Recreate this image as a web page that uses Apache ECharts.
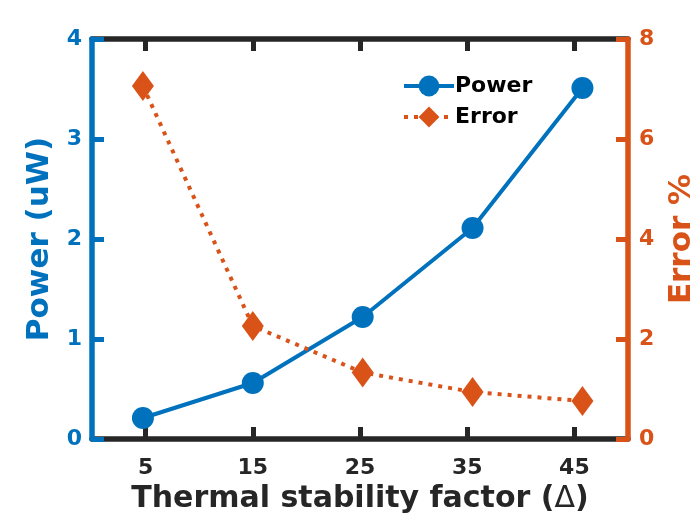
<!DOCTYPE html>
<html>
<head>
<meta charset="utf-8">
<script src="https://cdn.jsdelivr.net/npm/echarts@6/dist/echarts.min.js"></script>
<style>
  html, body { margin: 0; padding: 0; background: #fff; }
  #chart { width: 700px; height: 525px; }
</style>
</head>
<body>
<div id="chart"></div>
<script>
// thermal stability factor (x positions of the points)
const delta = [4.75, 15, 25.25, 35.5, 45.75];
const xTicks = [5, 15, 25, 35, 45];
// power in uW (left axis)
const power = [0.21, 0.56, 1.22, 2.11, 3.51];
// error in % (right axis)
const error = [7.06, 2.26, 1.33, 0.94, 0.76];

const blue = '#0072BD';
const orange = '#D95319';
const dark = '#262626';
const font = 'DejaVu Sans';

const chart = echarts.init(document.getElementById('chart'), null, { renderer: 'canvas' });

const option = {
  animation: false,
  grid: {
    left: 92,
    right: 72,
    top: 39,
    bottom: 86,
    outerBoundsMode: 'none'
  },
  legend: {
    left: 397,
    top: 70,
    orient: 'vertical',
    itemWidth: 50,
    itemHeight: 26,
    itemGap: 9,
    lineStyle: { width: 4 },
    textStyle: { fontFamily: font, fontWeight: 'bold', fontSize: 22, color: '#000', padding: [0, 0, 0, -4] },
    data: ['Power', 'Error']
  },
  xAxis: [{
    type: 'value',
    min: 0,
    max: 50,
    position: 'bottom',
    name: '{b|Thermal stability factor (}{d|Δ}{b|)}',
    nameLocation: 'middle',
    nameGap: 40,
    nameTextStyle: {
      rich: {
        b: { fontFamily: font, fontWeight: 'bold', fontSize: 30, color: dark },
        d: { fontFamily: font, fontWeight: 'normal', fontSize: 30, color: dark }
      }
    },
    axisLine: { onZero: false, lineStyle: { color: dark, width: 5.5 } },
    axisTick: { inside: true, length: 12, customValues: xTicks, lineStyle: { color: dark, width: 5 } },
    axisLabel: { customValues: xTicks, margin: 18, fontFamily: font, fontWeight: 'bold', fontSize: 22, color: dark },
    splitLine: { show: false }
  }, {
    type: 'value',
    min: 0,
    max: 50,
    position: 'top',
    axisLine: { onZero: false, lineStyle: { color: dark, width: 5.5 } },
    axisTick: { inside: true, length: 12, customValues: xTicks, lineStyle: { color: dark, width: 5 } },
    axisLabel: { show: false },
    splitLine: { show: false }
  }],
  yAxis: [{
    type: 'value',
    min: 0,
    max: 4,
    interval: 1,
    position: 'left',
    z: 5,
    name: 'Power (uW)',
    nameLocation: 'middle',
    nameGap: 34,
    nameTextStyle: { fontFamily: font, fontWeight: 'bold', fontSize: 31, color: blue },
    axisLine: { show: true, onZero: false, lineStyle: { color: blue, width: 5.5 } },
    axisTick: { show: true, inside: true, length: 12, lineStyle: { color: blue, width: 5 } },
    axisLabel: { margin: 10, fontFamily: font, fontWeight: 'bold', fontSize: 22, color: blue },
    splitLine: { show: false }
  }, {
    type: 'value',
    min: 0,
    max: 8,
    interval: 2,
    position: 'right',
    z: 5,
    name: 'Error %',
    nameLocation: 'middle',
    nameGap: 38,
    nameRotate: 90,
    nameTextStyle: { fontFamily: font, fontWeight: 'bold', fontSize: 31, color: orange },
    axisLine: { show: true, onZero: false, lineStyle: { color: orange, width: 5.5 } },
    axisTick: { show: true, inside: true, length: 12, lineStyle: { color: orange, width: 5 } },
    axisLabel: { margin: 11, fontFamily: font, fontWeight: 'bold', fontSize: 22, color: orange },
    splitLine: { show: false }
  }],
  series: [{
    name: 'Power',
    type: 'line',
    yAxisIndex: 0,
    data: delta.map((d, i) => [d, power[i]]),
    symbol: 'circle',
    symbolSize: 22,
    itemStyle: { color: blue },
    lineStyle: { color: blue, width: 4 }
  }, {
    name: 'Error',
    type: 'line',
    yAxisIndex: 1,
    data: delta.map((d, i) => [d, error[i]]),
    symbol: 'diamond',
    symbolSize: [22, 30],
    itemStyle: { color: orange },
    lineStyle: { color: orange, width: 4, type: [4, 6], cap: 'butt' }
  }]
};

chart.setOption(option);
</script>
</body>
</html>
